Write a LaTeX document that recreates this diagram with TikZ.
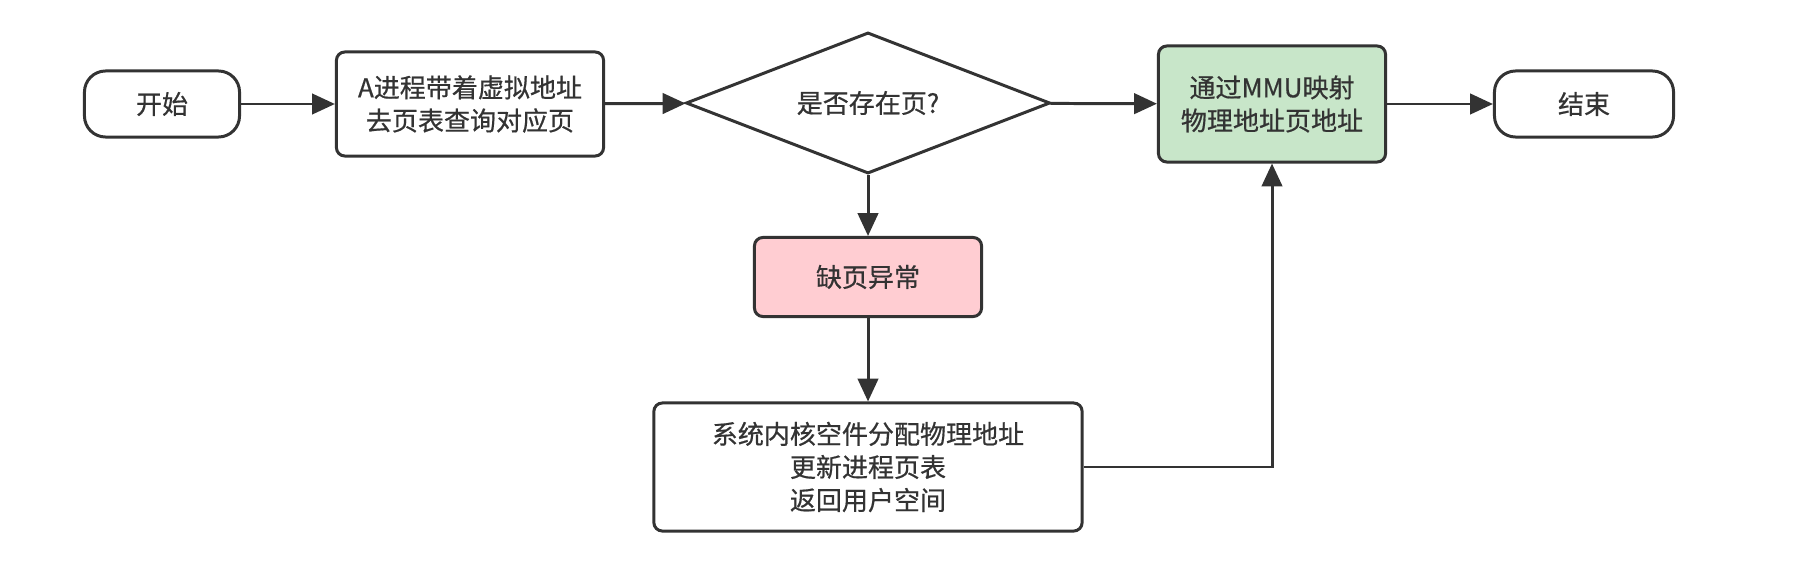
\documentclass[tikz,border=0pt]{standalone}
\usepackage{fontspec}
\setmainfont{Noto Sans CJK SC}[BoldFont={Noto Sans CJK SC},BoldFeatures={FakeBold=0.6}]
\usetikzlibrary{shapes.geometric,arrows.meta}
\definecolor{ink}{HTML}{333333}
\definecolor{okgreen}{HTML}{C8E6C9}
\definecolor{faultpink}{HTML}{FFCDD2}
\tikzset{
  every node/.style={text=ink, align=center, inner sep=0pt,
    font=\fontsize{7.4}{9.4}\selectfont\bfseries},
  terminal/.style={draw=ink, rounded corners=6pt, minimum height=0.66cm},
  box/.style={draw=ink, rounded corners=2.4pt},
  decision/.style={draw=ink, diamond, aspect=2.58,
    minimum width=3.64cm, minimum height=1.41cm}
}
\begin{document}
\begin{tikzpicture}[x=0.01cm,y=-0.01cm,line width=0.85pt,ink,
    ->,>={Triangle[length=6.5pt,width=5.8pt]}]
  \useasboundingbox (0,0) rectangle (1794,576);
  \node[terminal, minimum width=1.55cm] (start) at (162,104) {开始};
  \node[box, minimum width=2.67cm, minimum height=1.04cm] (lookup) at (470,104)
    {A进程带着虚拟地址\\去页表查询对应页};
  \node[decision] (exists) at (868,103) {是否存在页?};
  \node[box, fill=okgreen, minimum width=2.27cm, minimum height=1.16cm] (mmu) at (1272,104)
    {通过MMU映射\\物理地址页地址};
  \node[terminal, minimum width=1.79cm] (end) at (1584,104) {结束};
  \node[box, fill=faultpink, minimum width=2.27cm, minimum height=0.79cm] (fault) at (868,277)
    {缺页异常};
  \node[box, minimum width=4.28cm, minimum height=1.28cm] (alloc) at (868,467)
    {系统内核空件分配物理地址\\更新进程页表\\返回用户空间};
  \draw (start) -- (lookup);
  \draw (lookup) -- (exists);
  \draw (exists) -- (mmu);
  \draw (mmu) -- (end);
  \draw (exists) -- (fault);
  \draw (fault) -- (alloc);
  \draw (alloc.east) -| (mmu.south);
\end{tikzpicture}
\end{document}
